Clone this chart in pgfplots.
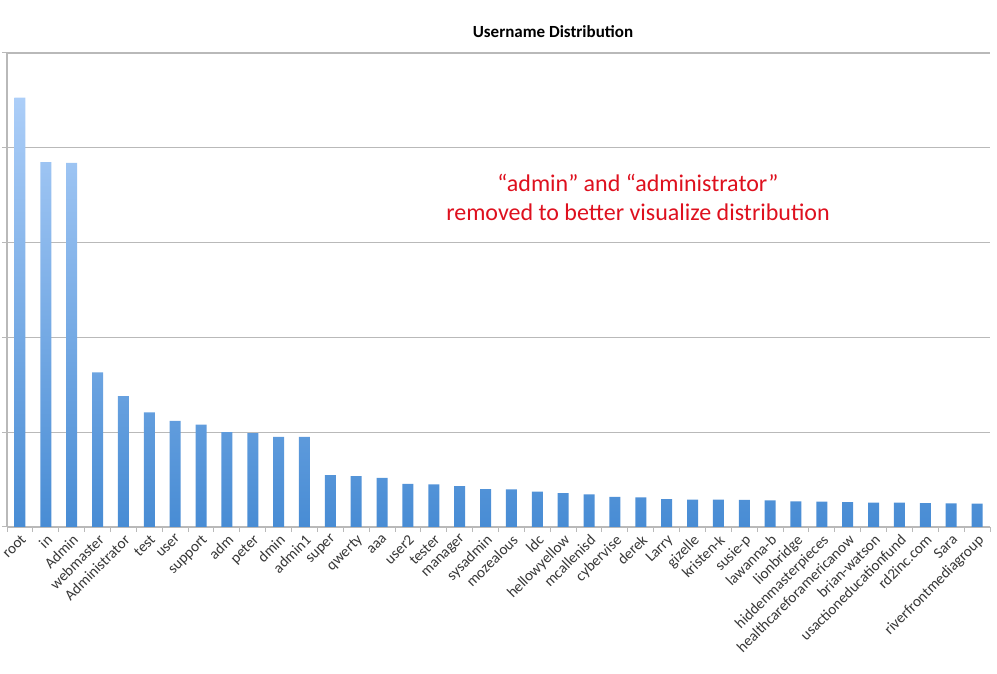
\documentclass[border=0pt]{standalone}
\usepackage{fontspec}
\setmainfont{Carlito}
\usepackage{pgfplots}
\pgfplotsset{compat=1.18}
\definecolor{barTop}{RGB}{172,206,248}
\definecolor{barBot}{RGB}{72,140,212}
\definecolor{gridc}{RGB}{185,185,185}
\definecolor{labc}{RGB}{55,55,55}
\definecolor{annot}{RGB}{222,16,30}
\begin{document}
\begin{tikzpicture}
\begin{axis}[
  at={(7pt,147pt)}, anchor=south west,
  scale only axis, width=983pt, height=474pt,
  xmin=-0.5, xmax=37.5, ymin=0, ymax=5000,
  axis x line*=bottom, axis y line*=left,
  axis line style={gridc, line width=1.2pt},
  ymajorgrids, major grid style={gridc, line width=1.2pt},
  ytick={0,1000,...,5000}, yticklabels={},
  tick align=outside, major tick length=5pt, minor tick length=5pt,
  tick style={gridc, line width=1pt},
  every major x tick/.append style={draw=none},
  xtick={0,...,37},
  minor xtick={-0.5,0.5,...,37.5},
  xticklabels={root,in,Admin,webmaster,Administrator,test,user,support,adm,peter,dmin,admin1,super,qwerty,aaa,user2,tester,manager,sysadmin,mozealous,ldc,hellowyellow,mcallenisd,cybervise,derek,Larry,gizelle,kristen-k,susie-p,lawanna-b,lionbridge,hiddenmasterpieces,healthcareforamericanow,brian-watson,usactioneducationfund,rd2inc.com,Sara,riverfrontmediagroup},
  xticklabel style={rotate=45, anchor=north east, text=labc, font=\fontsize{15.2}{17}\selectfont, inner sep=1pt},
  clip=false,
]
\addplot[ybar, bar width=11pt, draw=none, top color=barTop, bottom color=barBot] coordinates {
(0,4530) (1,3850) (2,3840) (3,1630) (4,1380) (5,1210) (6,1120) (7,1080)
(8,1000) (9,990) (10,950) (11,950) (12,547) (13,537) (14,519) (15,456)
(16,449) (17,432) (18,400) (19,397) (20,372) (21,358) (22,344) (23,319)
(24,313) (25,295) (26,290) (27,290) (28,287) (29,280) (30,270) (31,267)
(32,263) (33,256) (34,256) (35,253) (36,250) (37,246)
};
\end{axis}
\node[font=\bfseries\fontsize{17}{20}\selectfont] at (553pt,642pt) {Username Distribution};
\node[align=center, text=annot, font=\fontsize{24}{29}\selectfont] at (638pt,477pt) {“admin” and “administrator”\\removed to better visualize distribution};
\pgfresetboundingbox
\path[use as bounding box] (0,0) rectangle (997pt,674pt);
\end{tikzpicture}
\end{document}
